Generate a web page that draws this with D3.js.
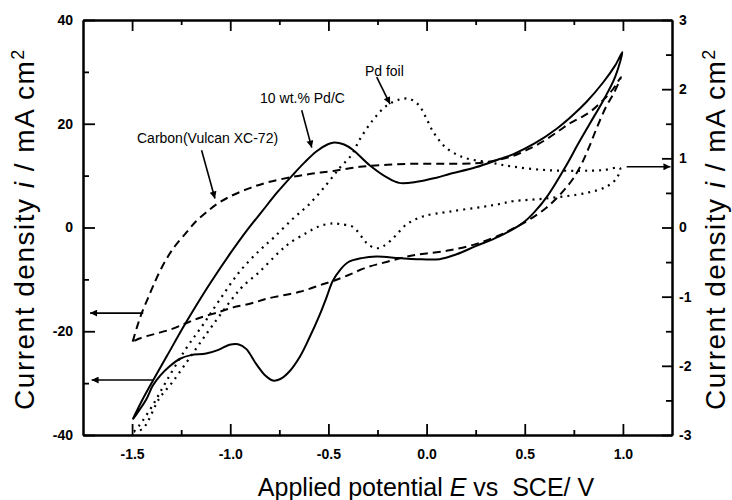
<!DOCTYPE html>
<html>
<head>
<meta charset="utf-8">
<script src="https://cdn.jsdelivr.net/npm/d3@7"></script>
<style>
  body { margin: 0; background: #fff; }
  text { font-family: "Liberation Sans", Arial, sans-serif; }
</style>
</head>
<body>
<div id="canvas"></div>
<script>
"use strict"

/* DATA: potential E (V vs SCE), current density */
// 10 wt.% Pd/C, left axis (mA cm-2): forward scan then return scan
let pdcLoop = [
  [-1.497, -37.0], [-1.45, -33.4], [-1.392, -29.4], [-1.32, -24.6], [-1.239, -19.2], [-1.171, -14.9],
  [-1.103, -10.8], [-1.0, -5.0], [-0.916, -0.6], [-0.834, 3.3], [-0.76, 6.8], [-0.68, 10.2],
  [-0.62, 12.6], [-0.56, 14.7], [-0.50, 16.1], [-0.47, 16.4], [-0.42, 16.0],
  [-0.376, 15.0], [-0.29, 12.0], [-0.20, 9.6], [-0.14, 8.6], [-0.05, 8.8], [0.05, 9.6],
  [0.117, 10.3], [0.25, 11.6], [0.372, 13.2], [0.44, 14.1], [0.55, 16.2], [0.661, 19.0],
  [0.74, 21.5], [0.814, 24.2], [0.90, 28.0], [0.96, 31.2], [0.997, 33.8],
  [0.96, 29.0], [0.90, 24.5], [0.831, 20.0], [0.77, 16.0], [0.712, 12.0], [0.618, 6.2],
  [0.55, 3.0], [0.491, 0.9], [0.37, -1.7], [0.25, -3.6], [0.15, -5.2], [0.066, -6.1],
  [-0.05, -6.1], [-0.14, -5.9], [-0.256, -5.6], [-0.33, -5.9], [-0.40, -6.7], [-0.443, -8.3],
  [-0.478, -10.3], [-0.51, -13.5], [-0.545, -16.9], [-0.60, -21.5], [-0.647, -25.0], [-0.70, -27.8],
  [-0.745, -29.2], [-0.783, -29.5], [-0.82, -28.6], [-0.868, -26.3], [-0.919, -23.4], [-0.96, -22.5],
  [-1.004, -22.6], [-1.06, -23.6], [-1.123, -24.3], [-1.20, -24.6], [-1.256, -25.3], [-1.31, -26.8],
  [-1.358, -28.6], [-1.395, -30.5], [-1.426, -33.0], [-1.463, -35.2], [-1.497, -37.0]
]

// Carbon (Vulcan XC-72), left axis
let carbonLoop = [
  [-1.497, -22.0], [-1.475, -19.2], [-1.451, -16.5], [-1.42, -13.7], [-1.392, -11.2], [-1.35, -7.8],
  [-1.29, -4.0], [-1.222, -0.9], [-1.174, 1.2], [-1.12, 3.0], [-1.069, 4.5], [-1.0, 6.0],
  [-0.9, 7.6], [-0.81, 8.7], [-0.69, 9.7], [-0.58, 10.4], [-0.475, 10.9], [-0.34, 11.7],
  [-0.2, 12.1], [-0.05, 12.3], [0.1, 12.3], [0.25, 12.4], [0.35, 12.9], [0.44, 13.8],
  [0.53, 15.3], [0.61, 17.0], [0.68, 18.8], [0.73, 20.1], [0.79, 21.3], [0.84, 22.5],
  [0.90, 24.6], [0.95, 26.7], [0.99, 29.0],
  [0.955, 26.0], [0.916, 23.4], [0.87, 19.5], [0.831, 15.8], [0.79, 12.3], [0.746, 9.4],
  [0.70, 7.2], [0.661, 5.6], [0.61, 3.8], [0.559, 2.4], [0.491, 0.8], [0.43, -0.4],
  [0.372, -1.5], [0.25, -3.2], [0.117, -4.4], [0.0, -5.0], [-0.087, -5.5], [-0.2, -6.6],
  [-0.305, -7.7], [-0.40, -9.2], [-0.475, -10.3], [-0.526, -10.9], [-0.647, -12.4], [-0.81, -13.7],
  [-0.9, -14.7], [-0.985, -15.4], [-1.05, -16.2], [-1.154, -17.4], [-1.222, -18.4], [-1.30, -19.6],
  [-1.392, -20.6], [-1.463, -21.4], [-1.497, -22.0]
]

// Pd foil, right axis
let foilLoop = [
  [-1.49, -2.95], [-1.463, -2.86], [-1.395, -2.57], [-1.327, -2.23], [-1.225, -1.75], [-1.14, -1.41],
  [-1.055, -1.05], [-0.95, -0.63], [-0.85, -0.33], [-0.78, -0.15], [-0.68, 0.13], [-0.60, 0.33],
  [-0.51, 0.62], [-0.443, 0.86], [-0.382, 1.05], [-0.341, 1.27], [-0.274, 1.55], [-0.205, 1.76],
  [-0.138, 1.85], [-0.087, 1.86], [-0.04, 1.77], [-0.005, 1.6], [0.032, 1.39], [0.07, 1.24],
  [0.10, 1.15], [0.15, 1.06], [0.202, 1.0], [0.32, 0.94], [0.44, 0.88], [0.61, 0.83],
  [0.78, 0.82], [0.90, 0.83], [0.985, 0.86],
  [0.967, 0.71], [0.916, 0.59], [0.814, 0.50], [0.61, 0.42], [0.44, 0.38], [0.372, 0.34],
  [0.287, 0.30], [0.117, 0.23], [-0.019, 0.16], [-0.104, 0.04], [-0.172, -0.16], [-0.22, -0.27],
  [-0.256, -0.30], [-0.30, -0.24], [-0.324, -0.16], [-0.376, 0.01], [-0.443, 0.05], [-0.478, 0.06],
  [-0.545, 0.02], [-0.613, -0.08], [-0.70, -0.23], [-0.749, -0.35], [-0.851, -0.64], [-0.936, -0.85],
  [-0.987, -1.02], [-1.089, -1.41], [-1.174, -1.75], [-1.293, -2.23], [-1.361, -2.47], [-1.446, -2.91],
  [-1.49, -2.95]
]

/* tick values */
let xTicks = [-1.5, -1.0, -0.5, 0.0, 0.5, 1.0]
let xMinorTicks = [-1.25, -0.75, -0.25, 0.25, 0.75]
let leftTicks = [-40, -20, 0, 20, 40]
let leftMinorTicks = [-30, -10, 10, 30]
let rightTicks = [-3, -2, -1, 0, 1, 2, 3]
let rightMinorTicks = [-2.5, -1.5, -0.5, 0.5, 1.5, 2.5]

/* annotation labels and arrows, in data units of the left axis */
let labels = [
  { text: "Carbon(Vulcan XC-72)", at: [-1.475, 16.3] },
  { text: "10 wt.% Pd/C", at: [-0.848, 24.0] },
  { text: "Pd foil", at: [-0.314, 29.2] }
]
let arrows = [
  { from: [-1.146, 14.9], to: [-1.078, 5.6] },
  { from: [-0.636, 22.6], to: [-0.585, 15.4] },
  { from: [-0.254, 29.0], to: [-0.186, 23.8] },
  { from: [-1.443, -16.5], to: [-1.714, -16.5] },
  { from: [-1.392, -29.4], to: [-1.706, -29.4] },
  { from: [1.019, 11.7], to: [1.242, 11.7] }
]

/* Configuration variables: drawing */
let svgWidth = 732;
let svgHeight = 500;

let marginLeft = 83;
let marginRight = 60;
let marginTop = 20;
let marginBottom = 65;

let svg = d3.select("#canvas")
  .append("svg")
  .attr("width", svgWidth)
  .attr("height", svgHeight);

svg.append("rect")
  .attr("width", svgWidth)
  .attr("height", svgHeight)
  .attr("fill", "white");

// scales
let xScale = d3.scaleLinear()
  .domain([-1.75, 1.25])
  .range([marginLeft, svgWidth - marginRight]);

let yLeft = d3.scaleLinear()
  .domain([-40, 40])
  .range([svgHeight - marginBottom, marginTop]);

let yRight = d3.scaleLinear()
  .domain([-3, 3])
  .range([svgHeight - marginBottom, marginTop]);

// AXES (ticks point inward)
function styleAxis(g) {
  g.select(".domain").attr("stroke-width", 2).attr("stroke", "black")
  g.selectAll(".tick line").attr("stroke-width", 1.8).attr("stroke", "black")
  g.selectAll(".tick text")
    .attr("fill", "black")
    .style("font-size", "14px")
    .style("font-weight", "bold")
}

let bottom = svgHeight - marginBottom
let right = svgWidth - marginRight

svg.append("g")
  .attr("transform", "translate(0," + bottom + ")")
  .call(d3.axisBottom(xScale).tickValues(xMinorTicks).tickSize(-5).tickSizeOuter(0).tickFormat(""))
  .call(styleAxis);
svg.append("g")
  .attr("transform", "translate(0," + bottom + ")")
  .call(d3.axisBottom(xScale).tickValues(xTicks).tickSize(-11).tickSizeOuter(0).tickPadding(14)
    .tickFormat(d => d.toFixed(1)))
  .call(styleAxis);

svg.append("g")
  .attr("transform", "translate(0," + marginTop + ")")
  .call(d3.axisTop(xScale).tickValues(xMinorTicks).tickSize(-5).tickSizeOuter(0).tickFormat(""))
  .call(styleAxis);
svg.append("g")
  .attr("transform", "translate(0," + marginTop + ")")
  .call(d3.axisTop(xScale).tickValues(xTicks).tickSize(-11).tickSizeOuter(0).tickFormat(""))
  .call(styleAxis);

svg.append("g")
  .attr("transform", "translate(" + marginLeft + ",0)")
  .call(d3.axisLeft(yLeft).tickValues(leftMinorTicks).tickSize(-6).tickSizeOuter(0).tickFormat(""))
  .call(styleAxis);
svg.append("g")
  .attr("transform", "translate(" + marginLeft + ",0)")
  .call(d3.axisLeft(yLeft).tickValues(leftTicks).tickSize(-12).tickSizeOuter(0).tickPadding(10)
    .tickFormat(d => String(d)))
  .call(styleAxis);

svg.append("g")
  .attr("transform", "translate(" + right + ",0)")
  .call(d3.axisRight(yRight).tickValues(rightMinorTicks).tickSize(-6).tickSizeOuter(0).tickFormat(""))
  .call(styleAxis);
svg.append("g")
  .attr("transform", "translate(" + right + ",0)")
  .call(d3.axisRight(yRight).tickValues(rightTicks).tickSize(-10).tickSizeOuter(0).tickPadding(7)
    .tickFormat(d => String(d)))
  .call(styleAxis);

// CURVES
let leftLine = d3.line()
  .x(d => xScale(d[0]))
  .y(d => yLeft(d[1]))
  .curve(d3.curveCatmullRom.alpha(0.5));

let rightLine = d3.line()
  .x(d => xScale(d[0]))
  .y(d => yRight(d[1]))
  .curve(d3.curveCatmullRom.alpha(0.5));

svg.append("path")
  .attr("d", leftLine(carbonLoop))
  .attr("fill", "none")
  .attr("stroke", "black")
  .attr("stroke-width", 2)
  .attr("stroke-dasharray", "8,5");

svg.append("path")
  .attr("d", rightLine(foilLoop))
  .attr("fill", "none")
  .attr("stroke", "black")
  .attr("stroke-width", 2.2)
  .attr("stroke-dasharray", "2,5");

svg.append("path")
  .attr("d", leftLine(pdcLoop))
  .attr("fill", "none")
  .attr("stroke", "black")
  .attr("stroke-width", 2);

// ARROWS + LABELS
svg.append("defs").append("marker")
  .attr("id", "head")
  .attr("viewBox", "0 0 10 10")
  .attr("refX", 10)
  .attr("refY", 5)
  .attr("markerUnits", "userSpaceOnUse")
  .attr("markerWidth", 10)
  .attr("markerHeight", 7)
  .attr("orient", "auto")
  .append("path")
  .attr("d", "M0,0 L10,5 L0,10 z")
  .attr("fill", "black");

svg.selectAll("line.arrow")
  .data(arrows)
  .join("line")
  .attr("class", "arrow")
  .attr("x1", d => xScale(d.from[0]))
  .attr("y1", d => yLeft(d.from[1]))
  .attr("x2", d => xScale(d.to[0]))
  .attr("y2", d => yLeft(d.to[1]))
  .attr("stroke", "black")
  .attr("stroke-width", 1.6)
  .attr("marker-end", "url(#head)");

svg.selectAll("text.note")
  .data(labels)
  .join("text")
  .attr("class", "note")
  .attr("x", d => xScale(d.at[0]))
  .attr("y", d => yLeft(d.at[1]))
  .style("font-size", "14px")
  .text(d => d.text);

/**** axis titles ****/
let xTitle = svg.append("text")
  .attr("x", 426)
  .attr("y", 496)
  .style("text-anchor", "middle")
  .style("font-size", "25px");
xTitle.append("tspan").text("Applied potential ");
xTitle.append("tspan").style("font-style", "italic").text("E");
xTitle.append("tspan").attr("xml:space", "preserve").text(" vs  SCE/ V");

function yTitle(x) {
  let t = svg.append("text")
    .attr("transform", "translate(" + x + ",229) rotate(-90)")
    .style("text-anchor", "middle")
    .style("font-size", "28px")
    .style("letter-spacing", "1.5px");
  t.append("tspan").text("Current density ");
  t.append("tspan").style("font-style", "italic").text("i");
  t.append("tspan").text(" / mA cm");
  t.append("tspan").attr("dy", "-10").style("font-size", "18px").text("2");
  return t
}
yTitle(34);
yTitle(725);
</script>
</body>
</html>
